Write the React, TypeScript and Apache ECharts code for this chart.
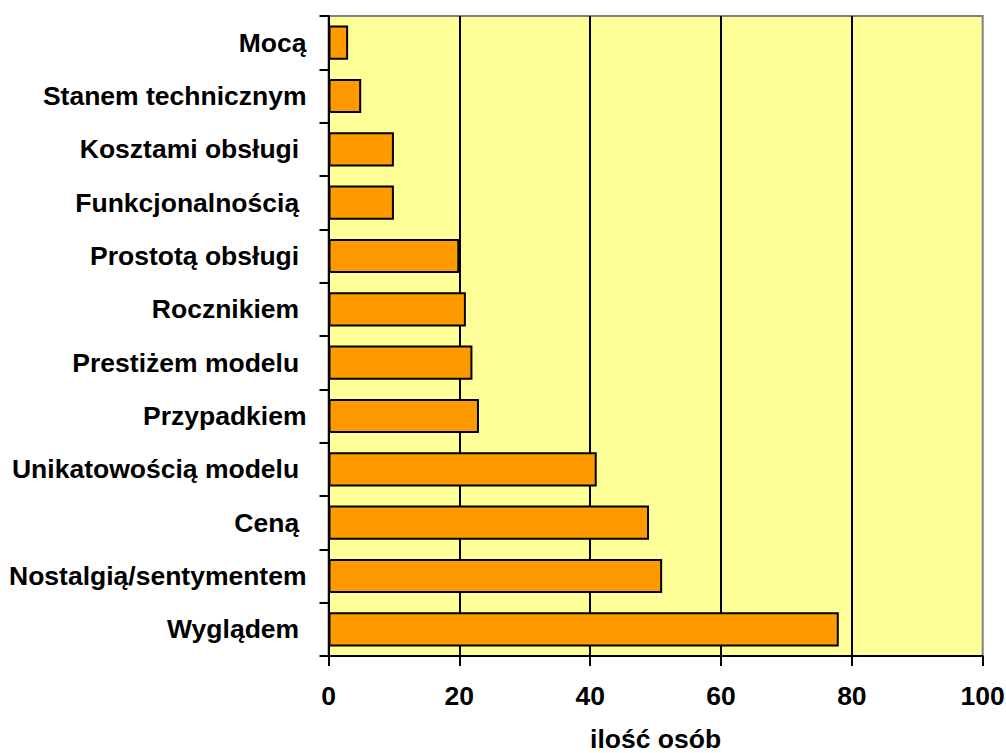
import React, { useEffect, useRef } from "react";
import * as echarts from "echarts";

// Reasons for choosing a car, ordered bottom-to-top on the axis
const categories = [
  "Wyglądem ",
  "Nostalgią/sentymentem",
  "Ceną ",
  "Unikatowością modelu ",
  "Przypadkiem",
  "Prestiżem modelu ",
  "Rocznikiem ",
  "Prostotą obsługi ",
  "Funkcjonalnością ",
  "Kosztami obsługi ",
  "Stanem technicznym",
  "Mocą",
];

// Number of people who gave each reason
const counts = [78, 51, 49, 41, 23, 22, 21, 20, 10, 10, 5, 3];

const xAxisName = "ilość osób";
const FONT = "'Liberation Sans', Arial, Helvetica, sans-serif";

export default function App() {
  const ref = useRef<HTMLDivElement>(null);

  useEffect(() => {
    document.body.style.margin = "0";
    if (!ref.current) return;
    const chart = echarts.init(ref.current, null, { renderer: "svg" });
    chart.setOption({
      animation: false,
      backgroundColor: "#ffffff",
      textStyle: { fontFamily: FONT },
      grid: {
        left: 328.5,
        right: 23.3,
        top: 16,
        bottom: 97,
        show: true,
        backgroundColor: "#FFFF99",
        borderColor: "#808080",
        borderWidth: 2,
        containLabel: false,
        outerBoundsMode: "none",
      },
      xAxis: {
        type: "value",
        min: 0,
        max: 100,
        interval: 20,
        name: xAxisName,
        nameLocation: "middle",
        nameGap: 69,
        nameTextStyle: {
          fontFamily: FONT,
          fontWeight: "bold",
          fontSize: 26.5,
          lineHeight: 27,
          color: "#000",
          verticalAlign: "top",
        },
        axisLine: { show: true, lineStyle: { color: "#000", width: 2 } },
        axisTick: { show: true, length: 10, lineStyle: { color: "#000", width: 2 } },
        axisLabel: {
          margin: 26,
          fontFamily: FONT,
          fontWeight: "bold",
          fontSize: 26.5,
          color: "#000",
        },
        splitLine: {
          show: true,
          showMinLine: false,
          showMaxLine: false,
          lineStyle: { color: "#000", width: 2 },
        },
      },
      yAxis: {
        type: "category",
        data: categories,
        axisLine: { show: true, lineStyle: { color: "#000", width: 2 } },
        axisTick: { show: true, length: 9, lineStyle: { color: "#000", width: 2 } },
        axisLabel: {
          margin: 22,
          fontFamily: FONT,
          fontWeight: "bold",
          fontSize: 26.5,
          color: "#000",
          formatter: (v: string) => v.replace(/ $/, "\u00a0"),
        },
        splitLine: { show: false },
      },
      series: [
        {
          type: "bar",
          data: counts,
          barCategoryGap: "36%",
          itemStyle: {
            color: "#FF9900",
            borderColor: "#000",
            borderWidth: 2,
          },
        },
      ],
    });
    return () => chart.dispose();
  }, []);

  return <div ref={ref} style={{ width: 1006, height: 753 }} />;
}
